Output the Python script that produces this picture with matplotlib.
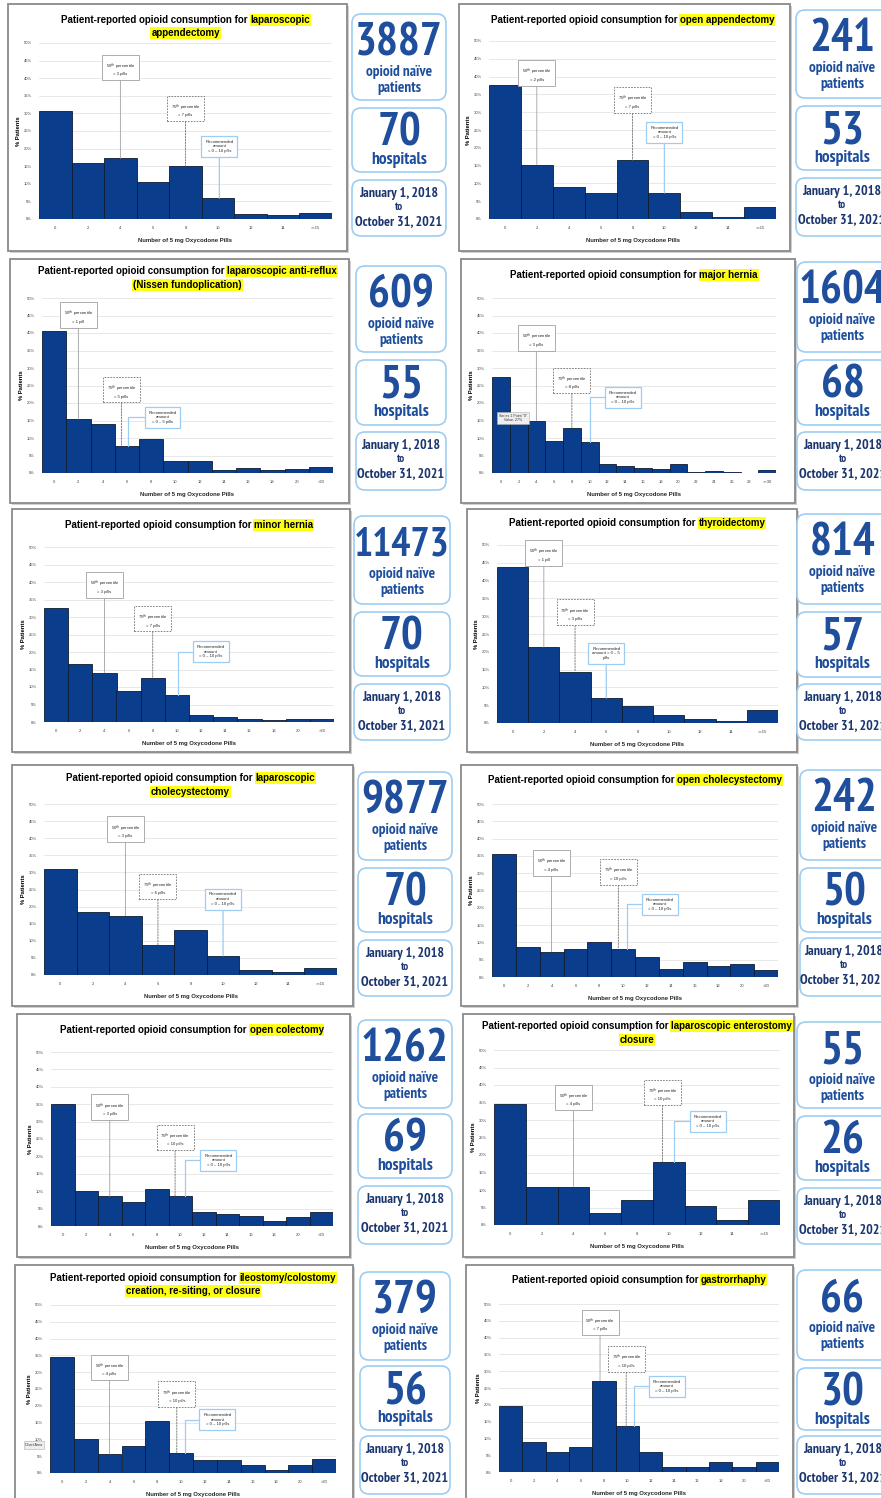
import matplotlib
matplotlib.use('Agg')
import matplotlib.pyplot as plt
from matplotlib import font_manager
from matplotlib.font_manager import FontProperties
from matplotlib.patches import Rectangle, FancyBboxPatch

W, H = 881, 1498
plt.rcParams['font.family'] = ['Liberation Sans', 'DejaVu Sans']


def find_condensed():
    # look for a narrow / condensed bold face for the stat boxes
    best = None
    for f in font_manager.fontManager.ttflist:
        nm, fn = f.name.lower(), f.fname.lower()
        if not ('narrow' in nm or 'condensed' in nm or 'narrow' in fn
                or 'condensed' in fn or str(f.stretch) in ('condensed', 'extra-condensed')):
            continue
        if f.style != 'normal' or 'italic' in fn:
            continue
        w = f.weight if isinstance(f.weight, int) else \
            {'bold': 700, 'semibold': 600, 'demibold': 600, 'heavy': 800,
             'black': 900, 'normal': 400, 'regular': 400, 'medium': 500}.get(str(f.weight), 400)
        pref = 3 * ('narrow' in nm) + 2 * ('roboto' in nm) + ('dejavu' in nm)
        score = (w >= 600, pref, -abs(w - 700))
        if best is None or score > best[0]:
            best = (score, f.fname)
    return best[1] if best else None


COND = find_condensed()
SCALE = 1.0 if COND else 0.8


def sfont(size):
    if COND:
        return FontProperties(fname=COND, size=size)
    return FontProperties(family='Liberation Sans', weight='bold', size=size * SCALE)


# ---- data -------------------------------------------------------------
ticks_15 = ['0', '2', '4', '6', '8', '10', '12', '14', '>=15']
ticks_20 = ['0', '2', '4', '6', '8', '10', '12', '14', '16', '18', '20', '>20']
ticks_30 = ['0', '2', '4', '6', '8', '10', '12', '14', '16', '18', '20',
            '22', '24', '26', '28', '>=30']

lap_appendectomy = [30.8, 15.9, 17.2, 10.4, 15.0, 5.9, 1.4, 1.0, 1.7]
open_appendectomy = [37.6, 15.3, 9.0, 7.3, 16.5, 7.3, 2.0, 0.7, 3.3]
anti_reflux = [40.7, 15.4, 14.0, 7.7, 9.7, 3.4, 3.3, 0.8, 1.5, 0.9, 1.1, 1.7]
major_hernia = [27.3, 14.5, 14.9, 9.2, 12.8, 8.8, 2.7, 1.9, 1.4, 1.2, 2.5,
                0.2, 0.5, 0.4, 0.1, 1.0]
minor_hernia = [32.7, 16.7, 14.1, 9.0, 12.6, 7.6, 1.9, 1.5, 1.0, 0.5, 1.0, 0.9]
thyroidectomy = [43.9, 21.3, 14.4, 7.0, 4.9, 2.3, 1.2, 0.5, 3.6]
lap_chole = [31.0, 18.3, 17.3, 8.7, 13.2, 5.6, 1.4, 0.9, 2.0]
open_chole = [35.6, 8.7, 7.3, 8.1, 10.2, 8.1, 5.8, 2.2, 4.2, 3.2, 3.7, 1.9]
open_colectomy = [35.2, 10.2, 8.5, 6.9, 10.6, 8.6, 4.1, 3.4, 2.9, 1.5, 2.6, 4.1]
lap_enterostomy = [34.7, 11.0, 11.0, 3.4, 7.1, 18.0, 5.3, 1.5, 7.1]
ileostomy = [34.4, 10.1, 5.6, 8.0, 15.4, 6.1, 4.0, 4.0, 2.5, 1.0, 2.5, 4.3]
gastrorrhaphy = [19.6, 9.0, 6.1, 7.5, 27.2, 13.6, 6.1, 1.4, 1.4, 3.0, 1.4, 3.0]

series = [lap_appendectomy, open_appendectomy, anti_reflux, major_hernia,
          minor_hernia, thyroidectomy, lap_chole, open_chole, open_colectomy,
          lap_enterostomy, ileostomy, gastrorrhaphy]
tick_sets = [ticks_15, ticks_15, ticks_20, ticks_30, ticks_20, ticks_15,
             ticks_15, ticks_20, ticks_20, ticks_15, ticks_20, ticks_20]

LEAD = 'Patient-reported opioid consumption for'
titles = [
    [(LEAD, 'laparoscopic'), ('', 'appendectomy')],
    [(LEAD, 'open appendectomy')],
    [(LEAD, 'laparoscopic anti-reflux'), ('', '(Nissen fundoplication)')],
    [(LEAD, 'major hernia')],
    [(LEAD, 'minor hernia')],
    [(LEAD, 'thyroidectomy')],
    [(LEAD, 'laparoscopic'), ('', 'cholecystectomy')],
    [(LEAD, 'open cholecystectomy')],
    [(LEAD, 'open colectomy')],
    [(LEAD, 'laparoscopic enterostomy'), ('', 'closure')],
    [(LEAD, 'ileostomy/colostomy'), ('', 'creation, re-siting, or closure')],
    [(LEAD, 'gastrorrhaphy')],
]

p50_pills = ['3 pills', '2 pills', '1 pill', '3 pills', '3 pills', '1 pill',
             '3 pills', '4 pills', '3 pills', '4 pills', '4 pills', '7 pills']
p75_pills = ['7 pills', '7 pills', '5 pills', '8 pills', '7 pills', '3 pills',
             '6 pills', '10 pills', '10 pills', '10 pills', '10 pills', '10 pills']
rec_texts = ['Recommended\namount\n= 0 \u2013 10 pills'] * 12
rec_texts[2] = 'Recommended\namount\n= 0 \u2013 5 pills'
rec_texts[5] = 'Recommended\namount = 0 \u2013 5\npills'

patients = ['3887', '241', '609', '1604', '11473', '814', '9877', '242',
            '1262', '55', '379', '66']
hospitals = ['70', '53', '55', '68', '70', '57', '70', '50', '69', '26', '56', '30']
period = ['January 1, 2018', 'to', 'October 31, 2021']

# ---- layout (pixels) ----------------------------------------------------
panel_px = [(8, 4, 347, 251), (459, 4, 790, 251), (10, 259, 349, 503),
            (461, 259, 795, 503), (12, 509, 350, 752), (467, 509, 797, 752),
            (12, 765, 353, 1006), (461, 765, 797, 1006), (17, 1014, 350, 1257),
            (463, 1014, 794, 1257), (15, 1265, 353, 1506), (466, 1265, 793, 1506)]
plot_px = [(39, 43, 332, 219), (489, 41, 776, 219), (42, 298, 333, 473),
           (492, 298, 776, 473), (44, 547, 334, 722), (497, 545, 778, 723),
           (44, 804, 337, 975), (492, 804, 778, 977), (51, 1052, 333, 1226),
           (494, 1050, 780, 1225), (50, 1305, 336, 1473), (499, 1304, 779, 1472)]
title_y = [(20, 33), (20,), (271, 285), (275,), (525,), (523,), (778, 792),
           (780,), (1030,), (1026, 1040), (1278, 1291), (1280,)]
p50_pos = [(2.0, 42.6), (1.0, 40.6), (1.0, 44.8), (2.0, 38.2), (2.0, 38.8),
           (1.0, 47.4), (2.0, 42.2), (2.0, 32.5), (2.0, 33.7), (2.0, 36.0),
           (2.0, 31.0), (3.83, 44.1)]
p75_pos = [(4.0, 31.0), (4.0, 33.0), (2.78, 23.4), (4.0, 26.0), (4.0, 29.1),
           (2.0, 30.7), (3.0, 25.5), (4.8, 30.0), (4.78, 25.0), (4.8, 37.5),
           (4.82, 23.0), (4.95, 33.2)]
rec_pos = [(5.04, 20.7), (5.0, 24.3), (4.47, 15.9), (6.87, 21.6), (6.41, 20.1),
           (3.0, 19.6), (5.0, 22.2), (6.54, 21.0), (6.62, 18.9), (6.23, 29.6),
           (6.52, 15.9), (6.69, 25.5)]
rec_line_x = [5.04, 5.0, 3.04, 5.0, 5.04, 3.0, 5.0, 5.15, 5.21, 5.17, 5.16, 5.29]

stat_x = [(352, 446), (796, 889), (356, 446), (797, 889), (354, 450), (797, 889),
          (358, 452), (800, 889), (358, 452), (797, 889), (360, 450), (797, 889)]
stat_y = [((14, 100), (108, 172), (180, 236)), ((10, 98), (106, 170), (178, 236)),
          ((266, 352), (360, 425), (432, 490)), ((262, 352), (360, 425), (432, 490)),
          ((516, 604), (612, 676), (684, 740)), ((514, 604), (612, 677), (684, 740)),
          ((772, 860), (868, 932), (940, 996)), ((770, 860), (868, 932), (938, 996)),
          ((1020, 1108), (1114, 1178), (1186, 1244)), ((1022, 1108), (1116, 1180), (1188, 1244)),
          ((1272, 1360), (1366, 1430), (1436, 1494)), ((1270, 1360), (1368, 1430), (1436, 1494))]

NAVY = '#0a3d8c'
BLUE_TXT = '#1f4f9c'
DATE_TXT = '#1b356e'
LIGHT_BLUE = '#9dcdf2'
TS = 7.0

fig = plt.figure(figsize=(W / 100, H / 100), dpi=100)
bg = fig.add_axes([0, 0, 1, 1], zorder=-1)
bg.set_xlim(0, W)
bg.set_ylim(H, 0)
bg.axis('off')
renderer = fig.canvas.get_renderer()


def frac(x0, y0, x1, y1):
    return [x0 / W, 1 - y1 / H, (x1 - x0) / W, (y1 - y0) / H]


def draw_title(xc, ys, lines):
    for (plain, hl), y in zip(lines, ys):
        w1, gap = 0, 0
        t1 = None
        if plain:
            t1 = bg.text(0, y, plain, fontsize=TS, weight='bold', ha='left', va='center')
            w1 = t1.get_window_extent(renderer).width
            gap = TS * 100 / 72 * 0.28
        t2 = bg.text(0, y, hl, fontsize=TS, weight='bold', ha='left', va='center',
                     bbox=dict(boxstyle='square,pad=0.08', fc='#ffff14', ec='none'))
        w2 = t2.get_window_extent(renderer).width
        x = xc - (w1 + gap + w2) / 2
        if t1 is not None:
            t1.set_x(x)
        t2.set_x(x + w1 + gap)


def note(ax, text, box_xy, line_x, top, style, elbow=False):
    if style == 'p50':
        bb = dict(boxstyle='square,pad=0.9', fc='white', ec='#a0a0a0', lw=0.6)
        ap = dict(arrowstyle='-', color='#a0a0a0', lw=0.6, shrinkA=0, shrinkB=0)
    elif style == 'p75':
        bb = dict(boxstyle='square,pad=0.9', fc='white', ec='#707070', lw=0.6, ls=(0, (2, 1.5)))
        ap = dict(arrowstyle='-', color='#707070', lw=0.6, ls=(0, (2, 1.5)), shrinkA=0, shrinkB=0)
    else:
        bb = dict(boxstyle='square,pad=0.9', fc='white', ec=LIGHT_BLUE, lw=0.9)
        ap = dict(arrowstyle='-', color=LIGHT_BLUE, lw=0.9, shrinkA=0, shrinkB=0)
    if elbow:
        ap['connectionstyle'] = 'angle,angleA=0,angleB=90,rad=0'
    ax.annotate(text, xy=(line_x, top), xytext=box_xy, fontsize=3.1,
                ha='center', va='center', multialignment='center',
                color='#262626', bbox=bb, arrowprops=ap, zorder=5)


for i, vals in enumerate(series):
    px0, py0, px1, py1 = panel_px[i]
    bg.add_patch(Rectangle((px0 + 1.5, py0 + 1.5), px1 - px0, py1 - py0,
                           fc='#d0d0d0', ec='none', zorder=0))
    bg.add_patch(Rectangle((px0, py0), px1 - px0, py1 - py0,
                           fc='white', ec='#8a8a8a', lw=1.3, zorder=1))

    ax = fig.add_axes(frac(*plot_px[i]))
    n = len(vals)
    xs = list(range(n))
    ax.bar(xs, vals, width=1.0, color=NAVY, edgecolor='#101c33', linewidth=0.6, zorder=3)
    ax.set_xlim(-0.5, n - 0.5)
    ax.set_ylim(0, 50)
    ax.set_yticks(range(0, 51, 5))
    ax.set_yticklabels([f'{v}%' for v in range(0, 51, 5)], fontsize=3, color='#404040')
    ax.set_xticks(xs)
    ax.set_xticklabels(tick_sets[i], fontsize=3, color='#404040')
    ax.tick_params(length=0, pad=5)
    ax.grid(axis='y', color='#dedede', lw=0.5, zorder=0)
    for s in ax.spines.values():
        s.set_visible(False)
    ax.set_ylabel('% Patients', fontsize=4.2, weight='bold', labelpad=2)
    ax.set_xlabel('Number of 5 mg Oxycodone Pills', fontsize=4.3, weight='bold',
                  labelpad=6, color='#262626')

    x50, y50 = p50_pos[i]
    note(ax, '50$^{th}$ percentile\n= ' + p50_pills[i], (x50, y50), x50,
         vals[int(round(x50))], 'p50')
    x75, y75 = p75_pos[i]
    note(ax, '75$^{th}$ percentile\n= ' + p75_pills[i], (x75, y75), x75,
         vals[int(round(x75))], 'p75')
    lx = rec_line_x[i]
    note(ax, rec_texts[i], rec_pos[i], lx, vals[int(round(lx))], 'rec',
         elbow=abs(rec_pos[i][0] - lx) > 0.3)

    if i == 3:
        ax.text(0.68, 15.7, 'Series 1 Point "0"\nValue: 27%', fontsize=2.6,
                ha='center', va='center', color='#333333', zorder=6,
                bbox=dict(boxstyle='square,pad=0.5', fc='#eeeeee', ec='#b0b0b0', lw=0.4))

    draw_title((plot_px[i][0] + plot_px[i][2]) / 2, title_y[i], titles[i])

    # stat boxes
    sx0, sx1 = stat_x[i]
    xc = (sx0 + sx1) / 2 if sx1 <= W else (sx0 + 888) / 2
    (a0, a1), (b0, b1), (c0, c1) = stat_y[i]
    for y0, y1 in stat_y[i]:
        bg.add_patch(FancyBboxPatch((sx0, y0), sx1 - sx0, y1 - y0,
                                    boxstyle='round,pad=0,rounding_size=9',
                                    fc='white', ec=LIGHT_BLUE, lw=1.2, zorder=2))
    big = 29 if len(patients[i]) >= 5 else 33
    bg.text(xc, a0 + 29, patients[i], fontproperties=sfont(big),
            color=BLUE_TXT, ha='center', va='center', zorder=3)
    bg.text(xc, a0 + 66, 'opioid na\u00efve\npatients', fontproperties=sfont(11),
            color=BLUE_TXT, ha='center', va='center', linespacing=1.1, zorder=3)
    bg.text(xc, b0 + 25, hospitals[i], fontproperties=sfont(33),
            color=BLUE_TXT, ha='center', va='center', zorder=3)
    bg.text(xc, b0 + 52, 'hospitals', fontproperties=sfont(12.5),
            color=BLUE_TXT, ha='center', va='center', zorder=3)
    bg.text(xc, c0 + 13, period[0], fontproperties=sfont(10),
            color=DATE_TXT, ha='center', va='center', zorder=3)
    bg.text(xc, c0 + 27, period[1], fontproperties=sfont(8),
            color=DATE_TXT, ha='center', va='center', zorder=3)
    bg.text(xc, c0 + 42, period[2], fontproperties=sfont(10),
            color=DATE_TXT, ha='center', va='center', zorder=3)

bg.text(34, 1445, 'Chart Area', fontsize=2.6, ha='center', va='center', color='#333333',
        zorder=6, bbox=dict(boxstyle='square,pad=0.5', fc='#eeeeee', ec='#b0b0b0', lw=0.4))

fig.savefig('out.png', dpi=100)
